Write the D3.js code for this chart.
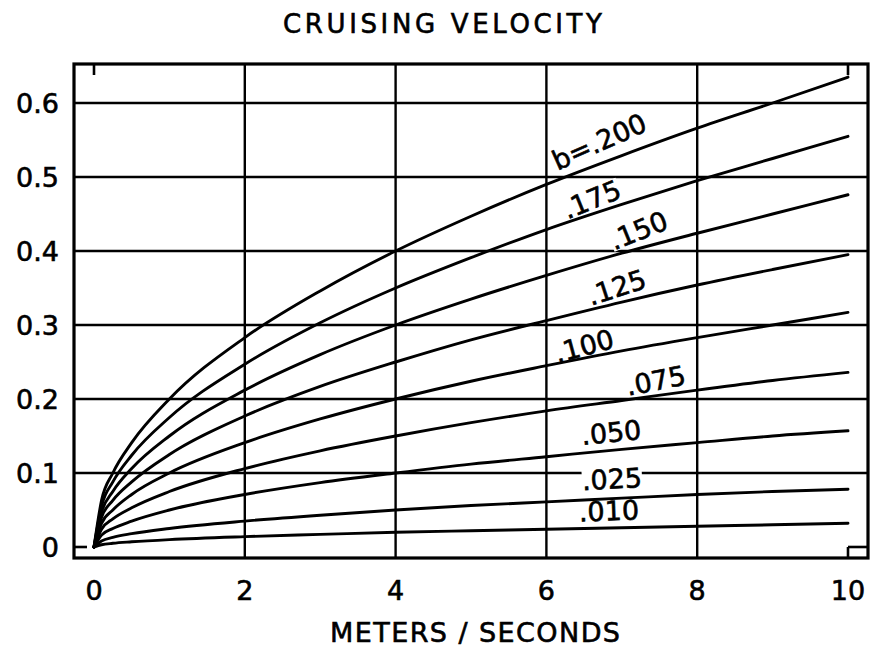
<!DOCTYPE html>
<html>
<head>
<meta charset="utf-8">
<script src="https://cdn.jsdelivr.net/npm/d3@7"></script>
<style>
  html, body { margin: 0; padding: 0; background: #fff; }
  svg { display: block; font-family: "DejaVu Sans", sans-serif; }
  svg text { fill: #000; stroke: #000; stroke-width: 0.6px; }
</style>
</head>
<body>
<div id="chart"></div>
<script>
// readings taken off the chart (x in m/s, y per curve)
const distance = [0, 0.1, 0.25, 0.5, 1, 2, 3, 4, 5, 6, 7, 8, 9, 10];

const b200 = [0, .063, .100, .141, .200, .283, .346, .400, .447, .490, .529, .566, .600, .635];
const b175 = [0, .055, .088, .124, .175, .247, .303, .350, .391, .429, .463, .495, .525, .555];
const b150 = [0, .047, .075, .106, .150, .212, .260, .300, .335, .367, .397, .424, .450, .476];
const b125 = [0, .040, .063, .088, .125, .177, .217, .250, .280, .306, .331, .354, .375, .395];
const b100 = [0, .032, .050, .071, .100, .141, .173, .200, .224, .245, .265, .283, .300, .317];
const b075 = [0, .024, .038, .053, .075, .106, .130, .150, .168, .184, .198, .212, .225, .236];
const b050 = [0, .016, .025, .035, .050, .071, .087, .100, .112, .122, .132, .141, .150, .157];
const b025 = [0, .008, .013, .018, .025, .035, .043, .050, .056, .061, .066, .071, .075, .078];
const b010 = [0, .003, .005, .007, .010, .014, .017, .020, .022, .024, .026, .028, .030, .032];

const curveLabels = ["b=.200", ".175", ".150", ".125", ".100", ".075", ".050", ".025", ".010"];
const curveValues = [b200, b175, b150, b125, b100, b075, b050, b025, b010];

const xTicks = [0, 2, 4, 6, 8, 10];
const xTickLabels = ["0", "2", "4", "6", "8", "10"];
const yTicks = [0, 0.1, 0.2, 0.3, 0.4, 0.5, 0.6];
const yTickLabels = ["0", "0.1", "0.2", "0.3", "0.4", "0.5", "0.6"];
const xGrid = [2, 4, 6, 8];
const yGrid = [0.1, 0.2, 0.3, 0.4, 0.5, 0.6];

// where the hand lettering sits (data coords) and its slant
const labelPlace = [
  { x: 6.70, y: 0.548, angle: -24 },
  { x: 6.60, y: 0.470, angle: -22 },
  { x: 7.22, y: 0.428, angle: -22 },
  { x: 6.93, y: 0.351, angle: -18 },
  { x: 6.50, y: 0.272, angle: -15 },
  { x: 7.45, y: 0.225, angle: -11 },
  { x: 6.86, y: 0.155, angle: -6 },
  { x: 6.87, y: 0.092, angle: -3 },
  { x: 6.83, y: 0.049, angle: -2 }
];

const width = 872, height = 651;
const frame = { left: 74, top: 64, right: 868, bottom: 558 };

const svg = d3.select("#chart").append("svg")
  .attr("width", width)
  .attr("height", height);

svg.append("rect").attr("width", width).attr("height", height).attr("fill", "#fff");

const x = d3.scaleLinear().domain([0, 10]).range([94, 848]);
const y = d3.scaleLinear().domain([0, 0.6]).range([547, 103]);

// grid
const grid = svg.append("g").attr("stroke", "#000").attr("stroke-width", 2.4);
grid.selectAll(".vgrid").data(xGrid).enter().append("line")
  .attr("class", "vgrid")
  .attr("x1", d => x(d)).attr("x2", d => x(d))
  .attr("y1", frame.top).attr("y2", frame.bottom);
grid.selectAll(".hgrid").data(yGrid).enter().append("line")
  .attr("class", "hgrid")
  .attr("x1", frame.left).attr("x2", frame.right)
  .attr("y1", d => y(d)).attr("y2", d => y(d));

// label backgrounds go under the curves but over the grid
const labelBg = svg.append("g");

// curves
const line = d3.line()
  .x((d, i) => x(distance[i]))
  .y(d => y(d))
  .curve(d3.curveMonotoneX);

svg.append("g").selectAll("path").data(curveValues).enter().append("path")
  .attr("d", d => line(d))
  .attr("fill", "none")
  .attr("stroke", "#000")
  .attr("stroke-width", 2.9)
  .attr("stroke-linecap", "round");

// frame
svg.append("rect")
  .attr("x", frame.left).attr("y", frame.top)
  .attr("width", frame.right - frame.left)
  .attr("height", frame.bottom - frame.top)
  .attr("fill", "none")
  .attr("stroke", "#000")
  .attr("stroke-width", 3.2);

// little end ticks on the frame
const ticks = svg.append("g").attr("stroke", "#000").attr("stroke-width", 2.6);
[0, 10].forEach(v => {
  ticks.append("line").attr("x1", x(v)).attr("x2", x(v)).attr("y1", frame.top).attr("y2", frame.top + 11);
});
ticks.append("line").attr("x1", x(10)).attr("x2", x(10)).attr("y1", frame.bottom).attr("y2", frame.bottom - 11);
ticks.append("line").attr("x1", frame.left).attr("x2", frame.left + 13).attr("y1", y(0)).attr("y2", y(0));
ticks.append("line").attr("x1", frame.right).attr("x2", frame.right - 20).attr("y1", y(0)).attr("y2", y(0));

// axis labels
svg.append("g").selectAll("text").data(yTicks).enter().append("text")
  .attr("x", 59)
  .attr("y", d => y(d))
  .attr("dy", "0.36em")
  .attr("text-anchor", "end")
  .attr("font-size", 27)
  .text((d, i) => yTickLabels[i]);

svg.append("g").selectAll("text").data(xTicks).enter().append("text")
  .attr("x", d => x(d))
  .attr("y", 600)
  .attr("text-anchor", "middle")
  .attr("font-size", 27)
  .text((d, i) => xTickLabels[i]);

svg.append("text")
  .attr("x", 283).attr("y", 33)
  .attr("font-size", 26)
  .attr("textLength", 319)
  .attr("lengthAdjust", "spacing")
  .text("CRUISING VELOCITY");

svg.append("text")
  .attr("x", 330).attr("y", 642)
  .attr("font-size", 27)
  .attr("textLength", 290)
  .attr("lengthAdjust", "spacing")
  .text("METERS / SECONDS");

// curve labels
const labels = svg.append("g");
curveLabels.forEach((txt, i) => {
  const p = labelPlace[i];
  const tr = "translate(" + x(p.x) + "," + y(p.y) + ") rotate(" + p.angle + ")";
  const t = labels.append("text")
    .attr("transform", tr)
    .attr("dy", "0.36em")
    .attr("text-anchor", "middle")
    .attr("font-size", 27)
    .text(txt);
  const w = t.node().getComputedTextLength();
  labelBg.append("rect")
    .attr("transform", tr)
    .attr("x", -w / 2).attr("y", -11)
    .attr("width", w).attr("height", 22)
    .attr("fill", "#fff");
});
</script>
</body>
</html>
